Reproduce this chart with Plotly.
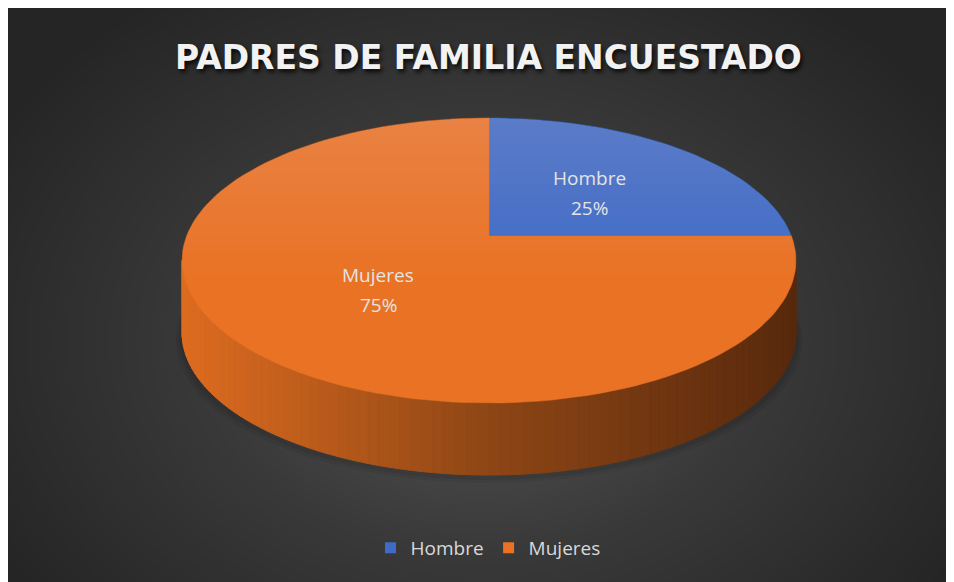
import math
import numpy as np
import plotly.graph_objects as go

# ---- data ----
labels = ["Hombre", "Mujeres"]
values = [25, 75]
colors = ["#3D6BC7", "#E97224"]
title_text = "PADRES DE FAMILIA ENCUESTADO"

# page body margin of 8px -> figure fills the rest of the 954x582 window
OFF = 8
SW, SH = 954, 582
W, H = SW - OFF, SH - OFF

# ---- projection of the 3D pie (screen pixel space, y down) ----
X0, Y0 = 489.0, 236.0
P = 0.172
M = 138.3
K = 302.4
DEPTH = 72.0


def proj(phi_deg, dy=0.0):
    a = math.radians(phi_deg)
    w = 1 + P * math.sin(a)
    return X0 + K * math.cos(a) / w, Y0 - M * math.sin(a) / w + dy


def arc(a0, a1, n, dy=0.0):
    pts = [proj(a0 + (a1 - a0) * i / n, dy) for i in range(n + 1)]
    return [p[0] for p in pts], [p[1] for p in pts]


fig = go.Figure()

# ---- background gradient (decorative) ----
nx, ny = 120, 80
gx = np.linspace(OFF, SW, nx)
gy = np.linspace(OFF, SH, ny)
GX, GY = np.meshgrid(gx, gy)
r = np.sqrt(((GX - 480) / 560) ** 2 + ((GY - 340) / 420) ** 2)
Z = np.clip(1 - r, 0, 1)
fig.add_trace(go.Heatmap(
    x=gx, y=gy, z=Z, zsmooth="best", showscale=False, hoverinfo="skip",
    colorscale=[[0, "#252525"], [0.5, "#393939"], [1, "#575757"]],
    zmin=0, zmax=1, xaxis="x", yaxis="y"))

# ---- slice angles ----
total = sum(values)
start = 90.0
bounds = []
a = start
for v in values:
    b = a - 360.0 * v / total
    bounds.append((a, b))
    a = b

# ---- soft shadow ----
for k, alpha in [(6, 0.06), (3, 0.08)]:
    sx, sy = arc(0, 360, 180, DEPTH + 2)
    cx = [X0 + (x - X0) * (1 + k / 300.0) for x in sx]
    cy = [y + k for y in sy]
    fig.add_trace(go.Scatter(x=cx, y=cy, fill="toself", mode="lines",
                             line=dict(width=0), fillcolor=f"rgba(0,0,0,{alpha})",
                             hoverinfo="skip", showlegend=False,
                             xaxis="x2", yaxis="y2"))

# ---- side wall (front, visible part) ----
pa = 180 + math.degrees(math.asin(P))
pb = 360 - math.degrees(math.asin(P))
NS = 90
stops = [(0.0, (222, 108, 32)), (0.5, (142, 70, 21)), (1.0, (88, 41, 13))]


def side_color(t):
    t = min(max(t, 0), 1)
    for (t0, c0), (t1, c1) in zip(stops[:-1], stops[1:]):
        if t <= t1:
            f = (t - t0) / (t1 - t0)
            c = [round(c0[i] + (c1[i] - c0[i]) * f) for i in range(3)]
            return "rgb(%d,%d,%d)" % tuple(c)
    return "rgb(%d,%d,%d)" % stops[-1][1]


for i in range(NS):
    s0 = pa + (pb - pa) * i / NS
    s1 = pa + (pb - pa) * (i + 1) / NS
    tx, ty = arc(s0, s1, 3)
    bx, by = arc(s1, s0, 3, DEPTH)
    xm = proj((s0 + s1) / 2)[0]
    col = side_color((xm - 182) / 614)
    fig.add_trace(go.Scatter(x=tx + bx + [tx[0]], y=ty + by + [ty[0]],
                             fill="toself", mode="lines",
                             line=dict(width=1, color=col), fillcolor=col,
                             hoverinfo="skip", showlegend=False,
                             xaxis="x2", yaxis="y2"))

# ---- top faces ----
for lab, (a0, a1), col in zip(labels, bounds, colors):
    n = max(int(abs(a1 - a0) / 2), 4)
    ex, ey = arc(a0, a1, n)
    fig.add_trace(go.Scatter(x=[X0] + ex + [X0], y=[Y0] + ey + [Y0],
                             fill="toself", mode="lines",
                             line=dict(width=0.5, color=col), fillcolor=col,
                             hoverinfo="skip", showlegend=False,
                             xaxis="x2", yaxis="y2"))

# ---- soft lighting on the upper part of the top face (stacked veils) ----
ox, oy = arc(-90, 270, 720)
NL = 16
for k in range(NL):
    ycut = 125 + (275 - 125) * k / (NL - 1)
    pts = [(x, y) for x, y in zip(ox, oy) if y < ycut]
    if len(pts) < 3:
        continue
    fig.add_trace(go.Scatter(x=[p[0] for p in pts] + [pts[0][0]],
                             y=[p[1] for p in pts] + [pts[0][1]],
                             fill="toself", mode="lines", line=dict(width=0),
                             fillcolor="rgba(255,255,255,0.012)",
                             hoverinfo="skip", showlegend=False,
                             xaxis="x2", yaxis="y2"))

# ---- legend entries ----
for lab, col in zip(labels, colors):
    fig.add_trace(go.Scatter(x=[None], y=[None], mode="markers", name=lab,
                             marker=dict(symbol="square", size=11, color=col),
                             xaxis="x2", yaxis="y2"))

# ---- data labels (name line and percent line) ----
label_pos = {"Hombre": (589, 178, 208), "Mujeres": (378, 275, 305)}
annotations = []
for lab, v in zip(labels, values):
    px, py1, py2 = label_pos[lab]
    for txt, py in [(lab, py1), (f"{round(100 * v / total)}%", py2)]:
        annotations.append(dict(
            x=px, y=py, xref="x2", yref="y2", showarrow=False, text=txt,
            font=dict(family="Open Sans", size=19, color="#e4e4e4"),
            xanchor="center", yanchor="middle"))

annotations.append(dict(
    x=488, y=57, xref="x2", yref="y2", showarrow=False,
    text=f"<b>{title_text}</b>",
    font=dict(family="DejaVu Sans", size=33, color="#f2f2f2",
              shadow="2px 3px 4px rgba(0,0,0,0.8)"),
    xanchor="center", yanchor="middle"))

ax_hidden = dict(visible=False, showgrid=False, zeroline=False, fixedrange=True)
fig.update_layout(
    width=W, height=H,
    margin=dict(l=0, r=0, t=0, b=0),
    paper_bgcolor="#2a2a2a",
    plot_bgcolor="rgba(0,0,0,0)",
    xaxis=dict(domain=[0, 1], range=[OFF, SW], **ax_hidden),
    yaxis=dict(domain=[0, 1], range=[SH, OFF], **ax_hidden),
    xaxis2=dict(domain=[0, 1], range=[OFF, SW], anchor="y2", **ax_hidden),
    yaxis2=dict(domain=[0, 1], range=[SH, OFF], anchor="x2", **ax_hidden),
    showlegend=True,
    legend=dict(orientation="h", x=(488 - OFF) / W, xanchor="center",
                y=1 - (548 - OFF) / H, yanchor="middle",
                bgcolor="rgba(0,0,0,0)",
                font=dict(family="Open Sans", size=19, color="#d9d9d9"),
                itemwidth=30, tracegroupgap=0),
    annotations=annotations,
)

fig.write_html("out.html",
               post_script="document.body.style.overflow='hidden';")
